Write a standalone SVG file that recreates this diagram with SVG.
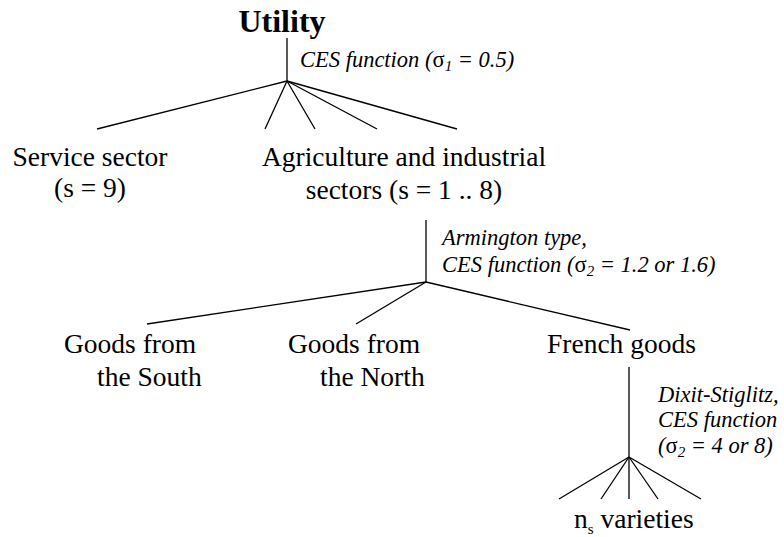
<svg xmlns="http://www.w3.org/2000/svg" width="784" height="537" viewBox="0 0 784 537">
<style>
.t{font-family:"Liberation Serif","Times New Roman",serif;font-size:27.5px;fill:#000}
.b{font-family:"Liberation Serif","Times New Roman",serif;font-size:32px;font-weight:bold;fill:#000}
.i{font-family:"Liberation Serif","Times New Roman",serif;font-size:22.5px;font-style:italic;fill:#000}
.s{font-style:normal}
.sub{font-size:15px}
.c line{stroke:#000;stroke-width:1.3}
</style>
<rect width="784" height="537" fill="#fff"/>
<g id="connectors" class="c">
<line x1="287" y1="38" x2="287" y2="81"/>
<line x1="287" y1="81" x2="97" y2="129"/>
<line x1="287" y1="81" x2="265" y2="129"/>
<line x1="287" y1="81" x2="315" y2="129"/>
<line x1="287" y1="81" x2="377" y2="129"/>
<line x1="287" y1="81" x2="457" y2="129"/>
<line x1="426" y1="220" x2="426" y2="282"/>
<line x1="426" y1="282" x2="147" y2="324"/>
<line x1="426" y1="282" x2="356" y2="324"/>
<line x1="426" y1="282" x2="630" y2="330"/>
<line x1="629" y1="367" x2="629" y2="457"/>
<line x1="629" y1="457" x2="559" y2="499"/>
<line x1="629" y1="457" x2="601" y2="499"/>
<line x1="629" y1="457" x2="629" y2="499"/>
<line x1="629" y1="457" x2="658" y2="499"/>
<line x1="629" y1="457" x2="701" y2="499"/>
</g>
<g id="utility"><text class="b" x="282" y="32" text-anchor="middle">Utility</text></g>
<g id="label-ces1"><text class="i" x="300" y="67">CES function (<tspan class="s">σ</tspan><tspan class="sub" dy="4">1</tspan><tspan dy="-4"> = 0.5)</tspan></text></g>
<g id="service"><text class="t" x="90" y="166" text-anchor="middle">Service sector</text><text class="t" x="90" y="197" text-anchor="middle">(s = 9)</text></g>
<g id="agri"><text class="t" x="404" y="166" text-anchor="middle">Agriculture and industrial</text><text class="t" x="404" y="199" text-anchor="middle">sectors (s = 1 .. 8)</text></g>
<g id="label-armington"><text class="i" x="442" y="245">Armington type,</text><text class="i" x="442" y="272">CES function (<tspan class="s">σ</tspan><tspan class="sub" dy="4">2</tspan><tspan dy="-4"> = 1.2 or 1.6)</tspan></text></g>
<g id="south"><text class="t" x="64" y="353">Goods from</text><text class="t" x="97" y="386">the South</text></g>
<g id="north"><text class="t" x="288" y="353">Goods from</text><text class="t" x="320" y="386">the North</text></g>
<g id="french"><text class="t" x="547" y="353">French goods</text></g>
<g id="label-dixit"><text class="i" x="658" y="402">Dixit-Stiglitz,</text><text class="i" x="658" y="427">CES function</text><text class="i" x="658" y="453">(<tspan class="s">σ</tspan><tspan class="sub" dy="4">2</tspan><tspan dy="-4"> = 4 or 8)</tspan></text></g>
<g id="varieties"><text class="t" x="574" y="528">n<tspan class="sub" font-size="17" dy="6">s</tspan><tspan dy="-6"> varieties</tspan></text></g>
</svg>
